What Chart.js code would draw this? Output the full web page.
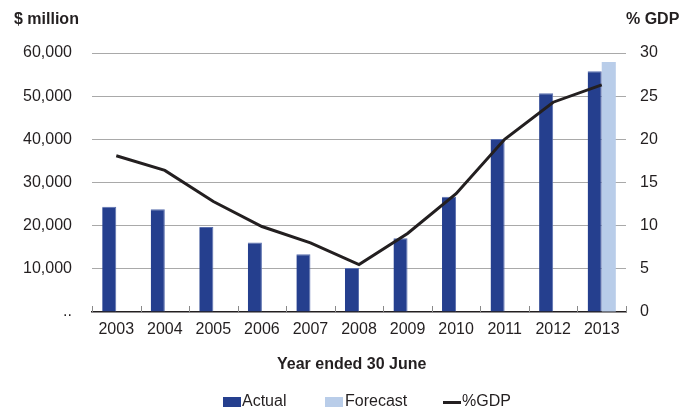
<!DOCTYPE html>
<html>
<head>
<meta charset="utf-8">
<script src="https://cdn.jsdelivr.net/npm/chart.js@4"></script>
<style>
  body { margin: 0; background: #fff; font-family: "Liberation Sans", Arial, sans-serif; color: #231f20; }
  #wrap { position: relative; width: 685px; height: 412px; }
  .txt { position: absolute; font-size: 16px; white-space: nowrap; }
  .bold { font-weight: bold; }
  .box { position: absolute; width: 18px; height: 10px; }
</style>
</head>
<body>
<div id="wrap">
  <canvas id="chart-data" width="685" height="412"></canvas>
  <div class="txt bold" style="left:14px; top:10px;">$ million</div>
  <div class="txt bold" style="left:626px; top:10px;">% GDP</div>
  <div class="txt bold" style="left:277px; top:355px;">Year ended 30 June</div>
  <div class="box" style="left:223px; top:397px; background:#253f8e;"></div>
  <div class="txt" style="left:242px; top:392px;">Actual</div>
  <div class="box" style="left:325px; top:397px; background:#b9cde9;"></div>
  <div class="txt" style="left:345px; top:392px;">Forecast</div>
  <div class="box" style="left:443px; top:401px; height:3px; background:#231f20;"></div>
  <div class="txt" style="left:462px; top:392px;">%GDP</div>
</div>
<script>
var years = ["2003", "2004", "2005", "2006", "2007", "2008", "2009", "2010", "2011", "2012", "2013"];
var actual = [24400, 23800, 19700, 16100, 13400, 10200, 17100, 26700, 40100, 50700, 55800];
var forecast = [null, null, null, null, null, null, null, null, null, null, 57900];
var pctGdp = [18.1, 16.4, 12.8, 9.9, 8.0, 5.5, 9.1, 13.7, 20.0, 24.3, 26.3];

// short tick marks between the years, pointing up from the axis
var innerTicks = {
    id: "innerTicks",
    afterDraw: function (chart) {
        var x = chart.scales.x;
        var c = chart.ctx;
        var bottom = chart.chartArea.bottom;
        c.save();
        c.strokeStyle = "#8a8a8a";
        c.lineWidth = 1;
        for (var i = 0; i <= years.length; i++) {
            var px;
            if (i == 0) px = x.left;
            else if (i == years.length) px = x.right;
            else px = (x.getPixelForValue(i - 1) + x.getPixelForValue(i)) / 2;
            px = Math.round(px) + 0.5;
            c.beginPath();
            c.moveTo(px, bottom - 6);
            c.lineTo(px, bottom);
            c.stroke();
        }
        c.restore();
    },
};

var ctx = document.getElementById("chart-data").getContext("2d");
var chart = new Chart(ctx, {
    type: "bar",
    data: {
        labels: years,
        datasets: [
            {
                label: "Actual",
                data: actual,
                backgroundColor: "#253f8e",
                borderColor: "#5a6fae",
                borderWidth: { top: 1, left: 0, right: 1, bottom: 0 },
                yAxisID: "y",
                order: 1,
            },
            {
                label: "Forecast",
                data: forecast,
                backgroundColor: "#b9cde9",
                borderWidth: 0,
                yAxisID: "y",
                order: 1,
            },
            {
                type: "line",
                label: "%GDP",
                data: pctGdp,
                borderColor: "#231f20",
                borderWidth: 3,
                pointRadius: 0,
                tension: 0,
                fill: false,
                yAxisID: "y1",
                order: 0,
            },
        ],
    },
    options: {
        responsive: false,
        animation: false,
        layout: { padding: { top: 53, left: 0, right: 0, bottom: 0 } },
        datasets: {
            bar: { categoryPercentage: 0.58, barPercentage: 1 },
        },
        plugins: {
            legend: { display: false },
            tooltip: { enabled: false },
        },
        scales: {
            x: {
                offset: true,
                grid: { display: false, drawTicks: false },
                border: { color: "#231f20", width: 1.5 },
                ticks: {
                    color: "#231f20",
                    font: { family: "Liberation Sans", size: 16 },
                    padding: 8,
                    maxRotation: 0,
                },
                afterFit: function (scale) { scale.height = 100; },
            },
            y: {
                position: "left",
                min: 0,
                max: 60000,
                grid: {
                    color: function (c) { return c.tick.value == 0 ? "rgba(0,0,0,0)" : "#a9a9a9"; },
                    drawTicks: false,
                },
                border: { display: false },
                ticks: {
                    stepSize: 10000,
                    color: "#231f20",
                    font: { family: "Liberation Sans", size: 16 },
                    padding: 20,
                    callback: function (v) { return v == 0 ? ".." : v.toLocaleString("en-US"); },
                },
                afterFit: function (scale) { scale.width = 92; },
            },
            y1: {
                position: "right",
                min: 0,
                max: 30,
                grid: { display: false, drawTicks: false },
                border: { display: false },
                ticks: {
                    stepSize: 5,
                    color: "#231f20",
                    font: { family: "Liberation Sans", size: 16 },
                    padding: 14,
                },
                afterFit: function (scale) { scale.width = 59; },
            },
        },
    },
    plugins: [innerTicks],
});
</script>
</body>
</html>
